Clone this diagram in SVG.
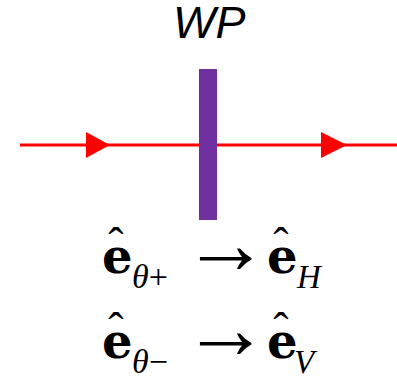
<svg xmlns="http://www.w3.org/2000/svg" width="397" height="383" viewBox="0 0 397 383">
<rect width="397" height="383" fill="#ffffff"/>
<g id="connectors" fill="#ff0000">
<line x1="20" y1="145" x2="397" y2="145" stroke="#ff0000" stroke-width="3"/>
<polygon points="86,132 110,145 86,158"/>
<polygon points="321,132 347,145 321,158"/>
</g>
<g id="waveplate">
<rect x="199" y="69" width="18" height="151" fill="#7030a0"/>
<text x="173" y="38" font-family="Liberation Sans" font-style="italic" font-size="45">WP</text>
</g>
<g id="eq1">
<text x="102" y="273" font-family="DejaVu Serif" font-size="48" font-weight="700">e</text>
<text x="116" y="260" font-family="Liberation Serif" font-size="46" text-anchor="middle">ˆ</text>
<text x="132" y="288" font-family="Liberation Serif" font-size="34"><tspan font-style="italic">θ</tspan>+</text>
<text x="182" y="273" font-family="Liberation Serif" font-size="87">→</text>
<text x="267" y="273" font-family="DejaVu Serif" font-size="48" font-weight="700">e</text>
<text x="281" y="260" font-family="Liberation Serif" font-size="46" text-anchor="middle">ˆ</text>
<text x="297" y="288" font-family="Liberation Serif" font-size="33" font-style="italic">H</text>
</g>
<g id="eq2">
<text x="102" y="358" font-family="DejaVu Serif" font-size="48" font-weight="700">e</text>
<text x="116" y="345" font-family="Liberation Serif" font-size="46" text-anchor="middle">ˆ</text>
<text x="132" y="373" font-family="Liberation Serif" font-size="34"><tspan font-style="italic">θ</tspan>−</text>
<text x="182" y="358" font-family="Liberation Serif" font-size="87">→</text>
<text x="267" y="358" font-family="DejaVu Serif" font-size="48" font-weight="700">e</text>
<text x="281" y="345" font-family="Liberation Serif" font-size="46" text-anchor="middle">ˆ</text>
<text x="294" y="373" font-family="Liberation Serif" font-size="33" font-style="italic">V</text>
</g>
</svg>
